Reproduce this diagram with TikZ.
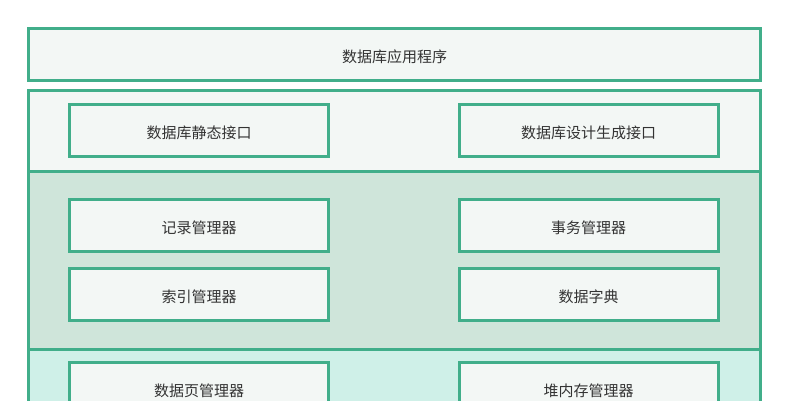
\documentclass[tikz,border=0pt]{standalone}
\usepackage{fontspec}
\newfontfamily\cjk{Noto Sans CJK SC}
\usetikzlibrary{positioning}

\definecolor{lineg}{HTML}{41AE8A}
\definecolor{paleg}{HTML}{F3F7F5}
\definecolor{midg}{HTML}{CFE5DA}
\definecolor{lowg}{HTML}{CFF0E8}
\definecolor{txtg}{HTML}{333333}

\begin{document}
\begin{tikzpicture}[x=1pt, y=-1pt,
  layer/.style = {draw=lineg, line width=3pt},
  box/.style = {draw=lineg, line width=3pt, fill=paleg, text=txtg,
    minimum width=259pt, minimum height=52pt,
    text height=15pt, text depth=0pt,
    font=\cjk\fontsize{15}{18}\selectfont}]
\useasboundingbox (0,0) rectangle (785,400);
\fill[paleg] (28.5,90.5) rectangle (760.5,171.5);
\fill[midg] (28.5,171.5) rectangle (760.5,349);
\fill[lowg] (28.5,349) rectangle (760.5,440);
\draw[layer] (28.5,90.5) rectangle (760.5,440);
\draw[layer] (28.5,171.5) -- (760.5,171.5);
\draw[layer] (28.5,349) -- (760.5,349);
\node (app) [box, minimum width=732pt] at (394.5,54.5) {数据库应用程序};
\node (static) [box] at (199,130.5) {数据库静态接口};
\node (design) [box] at (588.5,130.5) {数据库设计生成接口};
\node (record) [box] at (199,225.5) {记录管理器};
\node (trans) [box] at (588.5,225.5) {事务管理器};
\node (index) [box] at (199,294.5) {索引管理器};
\node (dict) [box] at (588.5,294.5) {数据字典};
\node (page) [box] at (199,388.5) {数据页管理器};
\node (heap) [box] at (588.5,388.5) {堆内存管理器};
\end{tikzpicture}
\end{document}
